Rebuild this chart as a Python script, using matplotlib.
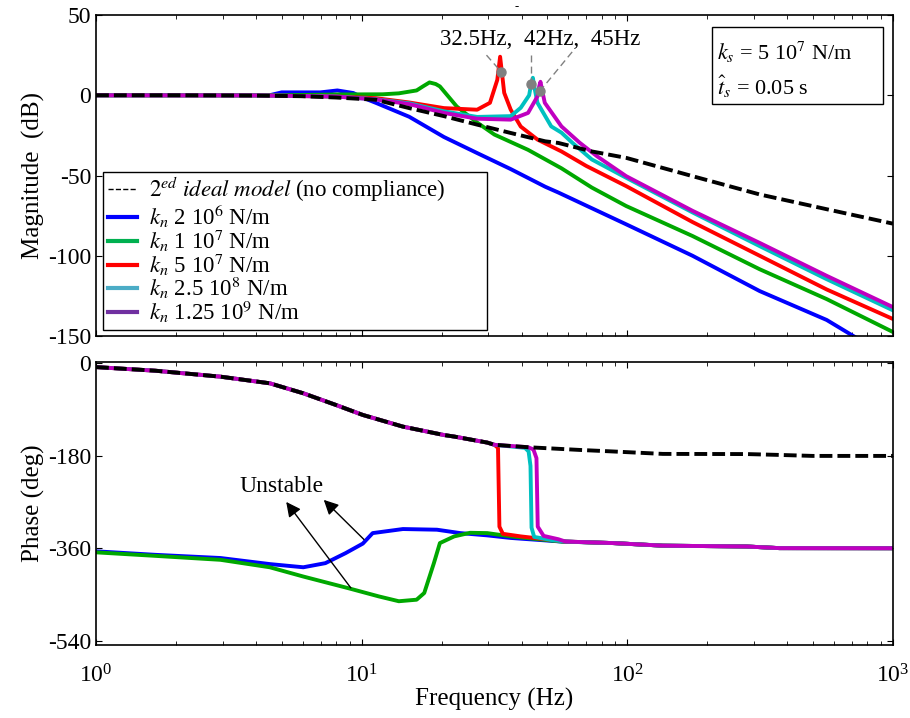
import numpy as np
import matplotlib
matplotlib.use('Agg')
import matplotlib.pyplot as plt
from matplotlib.lines import Line2D
from matplotlib.patches import Rectangle

plt.rcParams['font.family'] = ['Liberation Serif', 'DejaVu Serif']
plt.rcParams['mathtext.fontset'] = 'stix'
plt.rcParams['axes.unicode_minus'] = False

# ---- magnitude data (dB)
ideal_f = [1, 2, 4, 6, 8, 10, 11.3, 15.1, 20.4, 27.2, 36.4, 49.1, 55, 73.5, 99, 176, 315, 563, 1000]
ideal_db = [0, 0, -0.2, -0.6, -1.4, -2.3, -2.8, -8, -13, -18.3, -23.5, -28.7, -29.7, -35, -39, -50.4, -61.8, -71, -80]

blue_f = [1, 4.5, 5, 7, 8.1, 9.3, 10, 11.3, 15.1, 20.4, 27.2, 36.4, 49.1, 55, 99, 176, 315, 563, 760]
blue_db = [0, 0, 1.8, 1.8, 3, 1.4, -1.2, -4.7, -13.4, -26, -36, -46, -57, -60.6, -80.4, -100, -122, -140, -153]

green_f = [1, 5, 8, 12, 13.8, 16.1, 17, 18, 19, 19.7, 22.8, 27.2, 31.6, 42.3, 56.5, 73.5, 99, 176, 315, 563, 1000]
green_db = [0, 0, 0.5, 0.6, 1.2, 3, 5.5, 8, 7, 5.5, -7, -17, -24.5, -34, -45.5, -57.5, -69, -87.7, -108.4, -127, -147.5]

red_f = [1, 4, 8, 11.3, 15.1, 20.4, 27.2, 30.4, 32.4, 33.2, 34.0, 34.4, 36.4, 39.7, 45.9, 56.5, 70, 99, 176, 315, 563, 1000]
red_db = [0, -0.1, -0.8, -1.8, -4.5, -8, -9, -4.7, 9.6, 24, 9, 1.5, -9, -19.5, -27.6, -35, -44, -56.6, -79, -100, -121, -139.4]

cyan_f = [1, 4, 8, 11.3, 15.1, 20.4, 27.2, 36.4, 39.7, 42.7, 43.4, 44.1, 44.8, 45.9, 51.7, 56.5, 62.1, 73.5, 99, 176, 315, 563, 1000]
cyan_db = [0, -0.1, -0.8, -2.5, -5, -10, -13.5, -13, -7.8, 0, 6.5, 10.9, 4, -4.7, -19.4, -23.3, -29.6, -40, -51.4, -73, -94, -114.6, -134]

mag_f = [1, 4, 8, 11.3, 15.1, 20.4, 27.2, 36.4, 42.3, 45.9, 46.5, 47.1, 47.8, 48.9, 56.5, 66.2, 76.9, 99, 176, 315, 563, 1000]
mag_db = [0, -0.1, -0.8, -2.6, -5.5, -11, -14.6, -15.2, -11, -0.7, 5, 8.4, 3, -4.7, -19.4, -29.6, -38, -50.4, -72, -92, -112.5, -132]

# resonance markers
peak_f = [33.5, 43.5, 47.0]
peak_db = [14.6, 7.1, 2.8]

# ---- phase data (deg)
ideal_pf = [1, 1.67, 2.94, 4.51, 6.03, 8.0, 10.1, 14.3, 20.4, 22.3, 29.7, 31.6, 42.3, 66.2, 88.6, 136, 281, 374, 498, 1000]
ideal_ph = [-8, -15, -26.6, -39.5, -58.9, -81.6, -101, -123.7, -140, -143, -154.7, -159, -163.7, -169, -172, -176.7, -177, -178.7, -180.6, -180.6]

blue_pf = [1, 1.67, 2.94, 4.51, 6.03, 7.3, 8.7, 10.1, 11.0, 14.3, 19.2, 23.5, 29.7, 36.4, 56.5, 88.6, 136, 281, 374, 1000]
blue_ph = [-366, -372.8, -379, -390.8, -397, -389, -369.5, -351, -330.6, -322.7, -324, -330.6, -335, -340, -347, -350, -355, -356.6, -359.8, -360]

green_pf = [1, 1.67, 2.94, 4.51, 6.03, 8.9, 11.6, 13.8, 16.1, 17.2, 18.7, 19.7, 22.3, 25.6, 29.7, 36.4, 56.5, 88.6, 136, 281, 374, 1000]
green_ph = [-368, -374.8, -382.5, -397, -415, -437.6, -453.6, -463, -460, -447, -389, -350, -337, -330, -330.6, -337, -347, -350, -355, -356.6, -359.8, -360]

red_pf = [1, 1.67, 2.94, 4.51, 6.03, 8.0, 10.1, 14.3, 20.4, 22.3, 29.7, 31.6, 32.6, 33.0, 34.0, 39.7, 58.5, 88.6, 136, 281, 374, 1000]
red_ph = [-8, -15, -26.6, -39.5, -58.9, -81.6, -101, -123.7, -140, -143, -154.7, -159, -165, -318, -332, -337, -347, -350, -355, -356.6, -359.8, -360]

cyan_pf = [1, 1.67, 2.94, 4.51, 6.03, 8.0, 10.1, 14.3, 20.4, 22.3, 29.7, 31.6, 41.2, 42.5, 43.2, 43.6, 44.6, 51.7, 58.5, 88.6, 136, 281, 374, 1000]
cyan_ph = [-8, -15, -26.6, -39.5, -58.9, -81.6, -101, -123.7, -140, -143, -154.7, -159, -165, -172, -200, -320, -338, -344, -347, -350, -355, -356.6, -359.8, -360]

mag_pf = [1, 1.67, 2.94, 4.51, 6.03, 8.0, 10.1, 14.3, 20.4, 22.3, 29.7, 31.6, 42.3, 44.3, 45.5, 46.0, 48.4, 55, 58.5, 88.6, 136, 281, 374, 1000]
mag_ph = [-8, -15, -26.6, -39.5, -58.9, -81.6, -101, -123.7, -140, -143, -154.7, -159, -163.7, -168, -185, -318, -336, -342.5, -347, -350, -355, -356.6, -359.8, -360]

labels = [r'$2^{ed}\ ideal\ model$ (no compliance)',
          r'$k_n$ 2 10$^6$ N/m',
          r'$k_n$ 1 10$^7$ N/m',
          r'$k_n$ 5 10$^7$ N/m',
          r'$k_n$ 2.5 10$^8$ N/m',
          r'$k_n$ 1.25 10$^9$ N/m']
line_colors = ['#0000ff', '#00a800', '#ff0000', '#00c0c0', '#c000c0']
legend_colors = ['#0000ff', '#00b050', '#ff0000', '#4bacc6', '#7030a0']

fig = plt.figure(figsize=(9.1, 7.18), dpi=100)
ax1 = fig.add_axes([0.1055, 0.532, 0.8758, 0.4471])
ax2 = fig.add_axes([0.1055, 0.1017, 0.8758, 0.3942])

lw = 2.8
dash = (3.3, 1.3)
mag_sets = [(blue_f, blue_db), (green_f, green_db), (red_f, red_db), (cyan_f, cyan_db), (mag_f, mag_db)]
for (f, v), c in zip(mag_sets, line_colors):
    ax1.plot(f, v, color=c, lw=lw, solid_joinstyle='round')
ax1.plot(ideal_f, ideal_db, color='k', lw=lw, dashes=dash)

ph_sets = [(blue_pf, blue_ph), (green_pf, green_ph), (red_pf, red_ph), (cyan_pf, cyan_ph), (mag_pf, mag_ph)]
for (f, v), c in zip(ph_sets, line_colors):
    ax2.plot(f, v, color=c, lw=lw, solid_joinstyle='round')
ax2.plot(ideal_pf, ideal_ph, color='k', lw=lw, dashes=dash)

# resonance callouts
ax1.plot(peak_f, peak_db, 'o', color='#808080', ms=6.5, zorder=5)
text_xy = [(29.5, 25.0), (43.5, 25.0), (62.0, 27.0)]
for (tx, ty), pf, pd in zip(text_xy, peak_f, peak_db):
    ax1.plot([tx, pf], [ty, pd], color='#808080', lw=1, dashes=(5, 3))
ax1.text(47, 34.5, '32.5Hz,  42Hz,  45Hz', ha='center', va='center', fontsize=16.5)

# ks / ts box
ax1.add_patch(Rectangle((0.773, 0.723), 0.214, 0.24, transform=ax1.transAxes,
                        fill=False, lw=1, ec='k', zorder=6))
ax1.text(0.779, 0.885, r'$k_s$ = 5 10$^7$ N/m', transform=ax1.transAxes,
         fontsize=16, va='center')
ax1.text(0.779, 0.775, r'$\hat{t}_s$ = 0.05 s', transform=ax1.transAxes,
         fontsize=16, va='center')

handles = [Line2D([], [], color='k', lw=1, ls='--')]
handles += [Line2D([], [], color=c, lw=3) for c in legend_colors]
leg = ax1.legend(handles, labels, loc='lower left', mode='expand',
                 bbox_to_anchor=(0.0088, 0.019, 0.4818, 0.5),
                 borderaxespad=0, fontsize=16.5, handlelength=1.3, labelspacing=-0.1,
                 handletextpad=0.5, borderpad=0.2, fancybox=False, framealpha=1)
leg.get_frame().set_edgecolor('k')
leg.get_frame().set_linewidth(1)

# unstable arrows
ax2.text(5.0, -240, 'Unstable', fontsize=17, ha='center', va='center')
ax2.annotate('', xy=(5.2, -270), xytext=(9.1, -437),
             arrowprops=dict(arrowstyle='-|>', mutation_scale=22, lw=1, color='k',
                             shrinkA=0, shrinkB=0))
ax2.annotate('', xy=(7.2, -266), xytext=(10.2, -343),
             arrowprops=dict(arrowstyle='-|>', mutation_scale=22, lw=1, color='k',
                             shrinkA=0, shrinkB=0))

for ax in (ax1, ax2):
    ax.set_xscale('log')
    ax.set_xlim(1, 1000)
    ax.tick_params(which='both', direction='in', top=True, right=True, labelsize=17)
    ax.tick_params(which='major', length=4)
    ax.tick_params(which='minor', length=3)
    for s in ax.spines.values():
        s.set_linewidth(1.2)

ax1.set_ylim(-150, 50)
ax1.set_yticks([50, 0, -50, -100, -150])
ax1.set_xticklabels([])
ax1.set_ylabel('Magnitude  (dB)', fontsize=18, labelpad=2)

ax2.set_ylim(-548, 2)
ax2.set_yticks([0, -180, -360, -540])
ax2.tick_params(axis='x', which='major', pad=14)
ax2.set_ylabel('Phase (deg)', fontsize=18, labelpad=2)
ax2.set_xlabel('Frequency (Hz)', fontsize=18, labelpad=0)

fig.text(0.568, 0.998, '-', fontsize=9, ha='center', va='top')

fig.savefig('out.png', dpi=100)
